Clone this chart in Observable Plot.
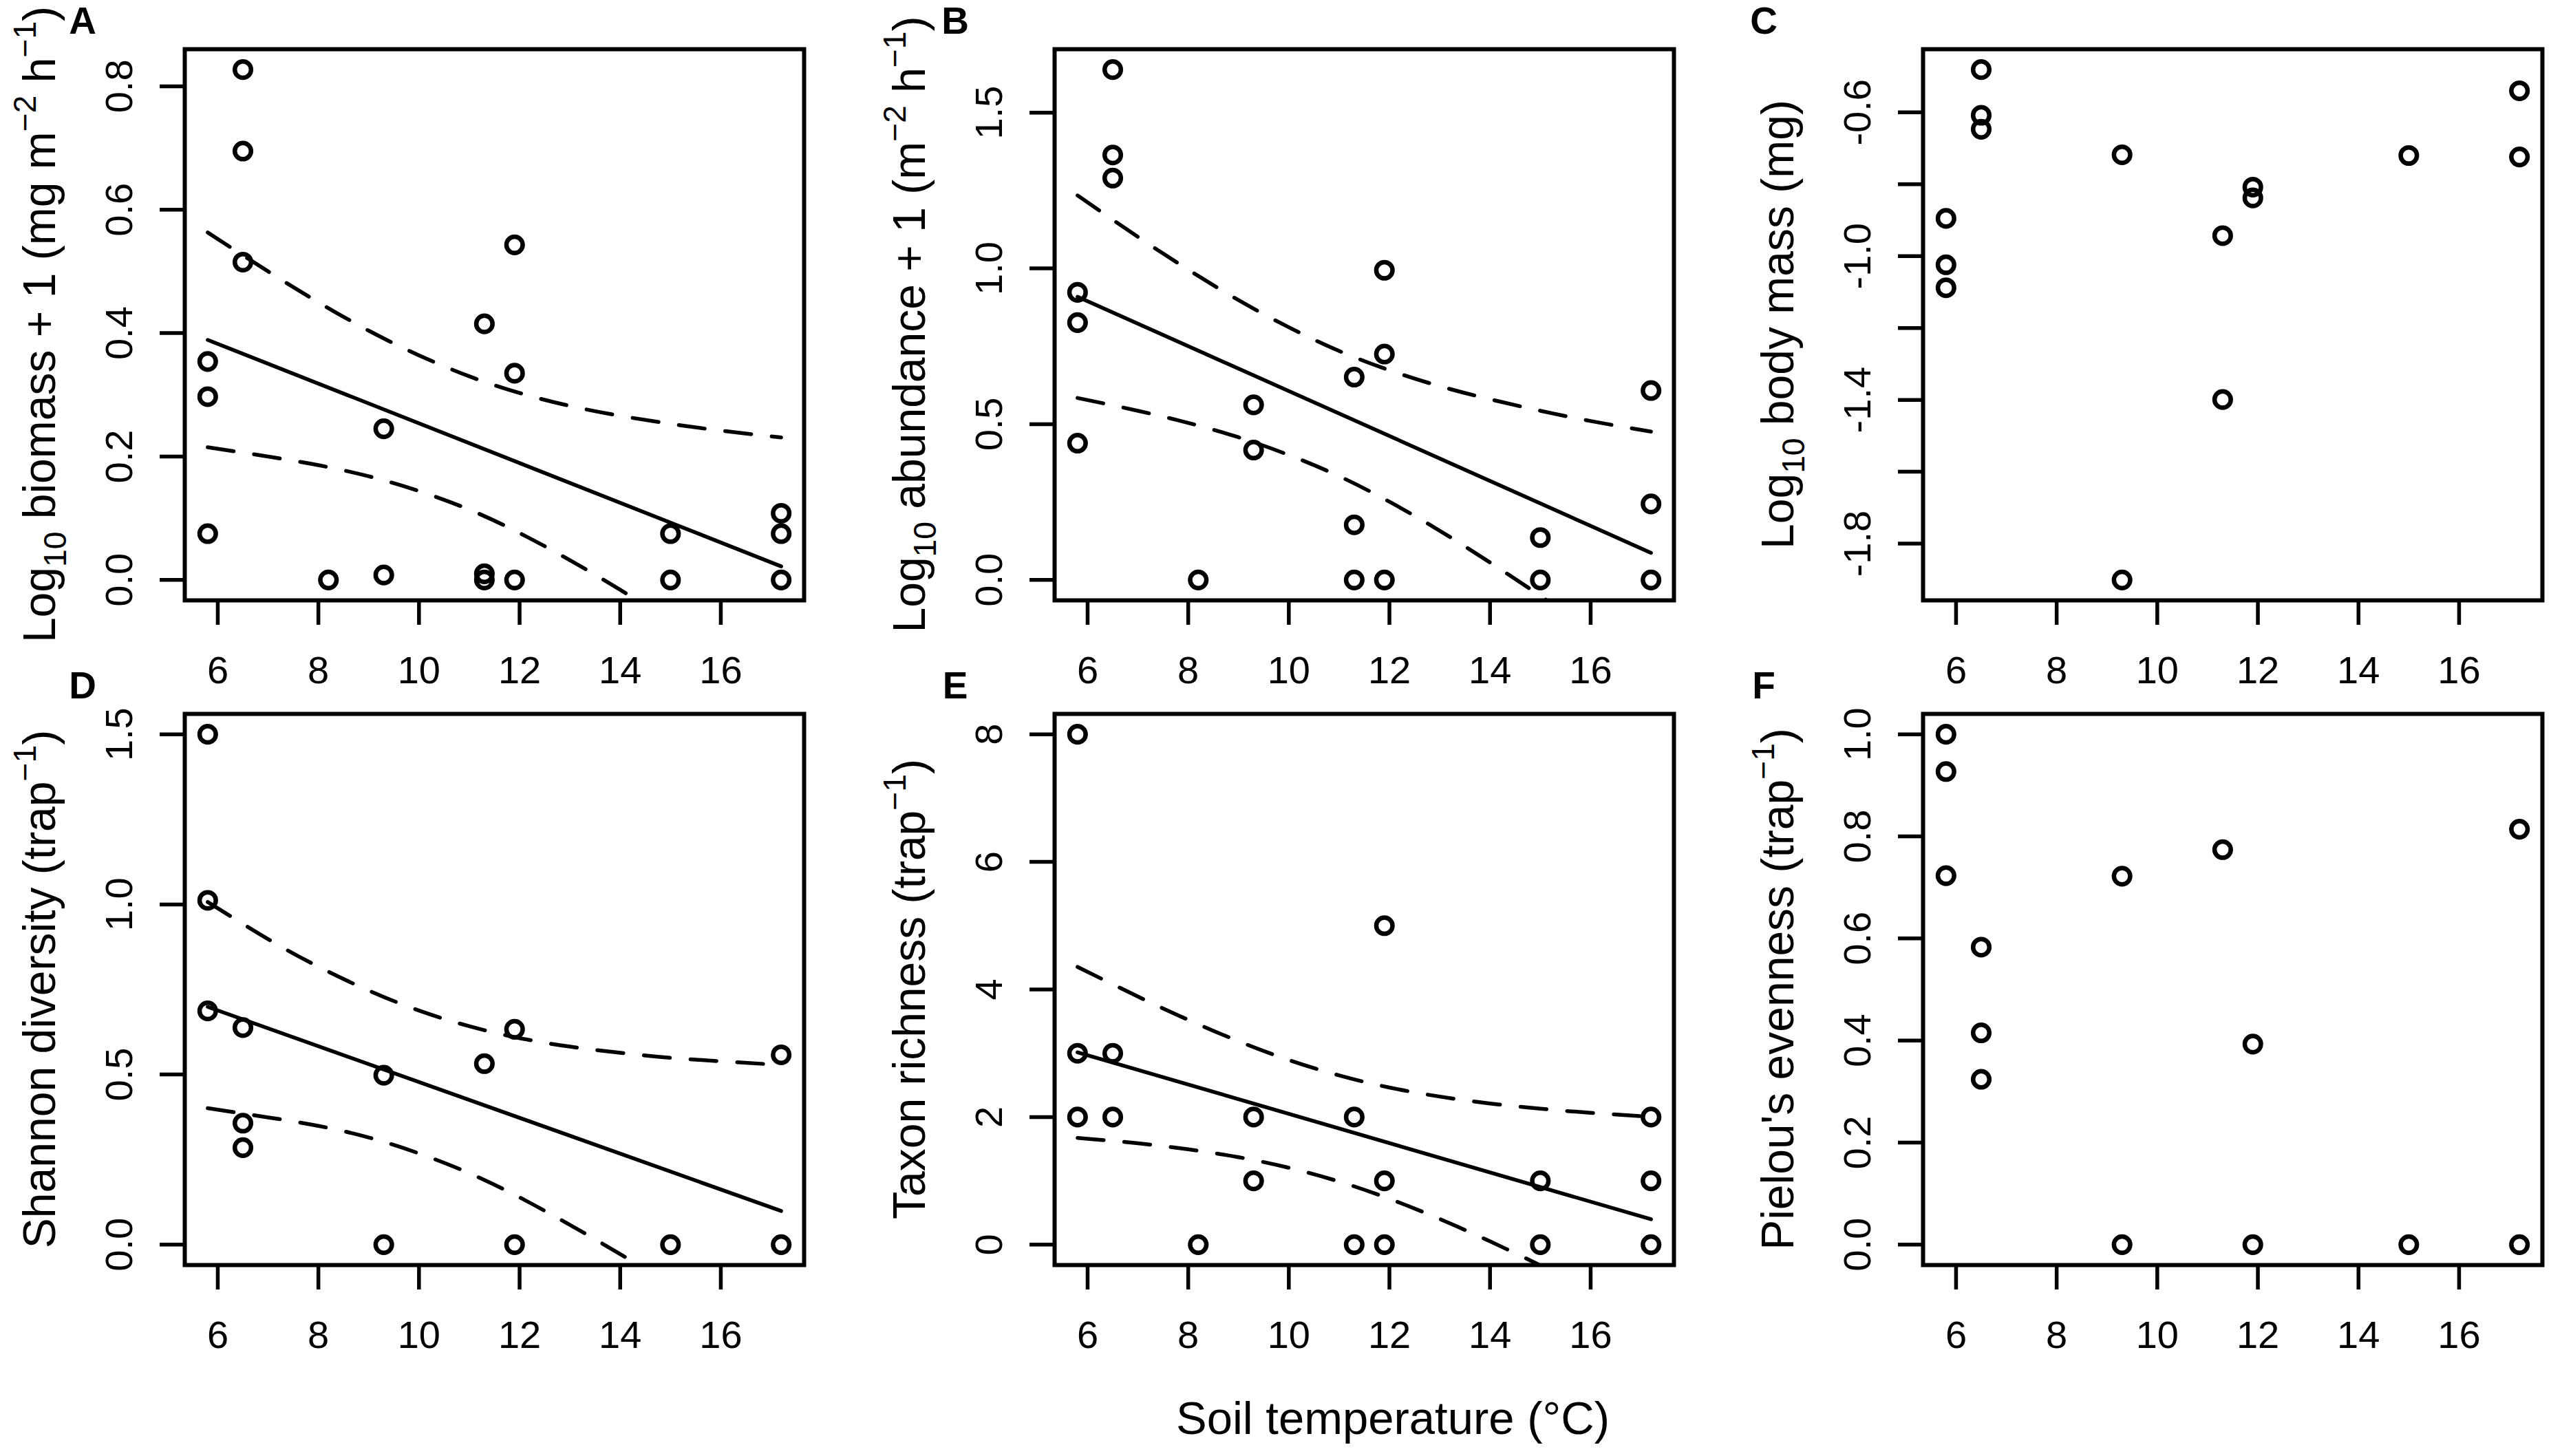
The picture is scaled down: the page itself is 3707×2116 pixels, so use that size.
<!DOCTYPE html>
<html><head><meta charset="utf-8">
<script src="https://cdn.jsdelivr.net/npm/d3@7"></script>
<script src="https://cdn.jsdelivr.net/npm/@observablehq/plot@0.6"></script>
<style>
html,body{margin:0;padding:0;background:#fff;}
#fig{position:relative;width:3707px;height:2116px;overflow:hidden;background:#fff;}
#fig svg{position:absolute;}
</style></head><body><div id="fig"></div>
<script>
const FONT = "'Liberation Sans', Arial, Helvetica, sans-serif";

// ---------- shared ----------
const xTicks = [6, 8, 10, 12, 14, 16];
const bandX = [5.8, 7, 8, 9, 10, 11, 12, 13, 14, 15, 16, 17.2];
const fitX = [5.8, 17.2];

// ---------- A: biomass ----------
const biomassTemp  = [5.8,5.8,5.8,6.5,6.5,6.5,8.2,9.3,9.3,11.3,11.3,11.3,11.9,11.9,11.9,15.0,15.0,17.2,17.2,17.2];
const biomassValue = [0.354,0.297,0.075,0.827,0.695,0.515,0,0.245,0.008,0.415,0.010,0,0.543,0.335,0,0.075,0,0.108,0.075,0];
const biomassFit   = [0.389, 0.022];
const biomassUpper = [0.563,0.500,0.450,0.404,0.364,0.330,0.303,0.282,0.266,0.253,0.242,0.231];
const biomassLower = [0.215,0.200,0.186,0.168,0.144,0.114,0.076,0.032,-0.016,-0.067,-0.120,-0.187];
const biomassTicks = [0, 0.2, 0.4, 0.6, 0.8];

// ---------- B: abundance ----------
const abundanceTemp  = [5.8,5.8,5.8,6.5,6.5,6.5,8.2,9.3,9.3,11.3,11.3,11.3,11.9,11.9,11.9,15.0,15.0,17.2,17.2,17.2];
const abundanceValue = [0.923,0.826,0.439,1.638,1.364,1.290,0,0.562,0.417,0.651,0.177,0,0.994,0.725,0,0.136,0,0.608,0.244,0];
const abundanceFit   = [0.909, 0.087];
const abundanceUpper = [1.234,1.101,0.996,0.898,0.811,0.735,0.673,0.622,0.580,0.543,0.510,0.476];
const abundanceLower = [0.584,0.543,0.504,0.458,0.401,0.333,0.251,0.158,0.056,-0.051,-0.164,-0.302];
const abundanceTicks = [0, 0.5, 1.0, 1.5];

// ---------- C: body mass ----------
const massTemp  = [5.8,5.8,5.8,6.5,6.5,6.5,9.3,9.3,11.3,11.3,11.9,11.9,15.0,17.2,17.2];
const massValue = [-0.895,-1.024,-1.088,-0.481,-0.608,-0.647,-0.718,-1.901,-0.943,-1.399,-0.808,-0.838,-0.720,-0.540,-0.724];
const massTicks = [-1.8,-1.6,-1.4,-1.2,-1.0,-0.8,-0.6];
const massTickLabels = [-1.8,-1.4,-1.0,-0.6];

// ---------- D: Shannon ----------
const shannonTemp  = [5.8,5.8,5.8,6.5,6.5,6.5,9.3,9.3,11.3,11.9,11.9,15.0,17.2,17.2];
const shannonValue = [1.5,1.012,0.687,0.638,0.357,0.285,0.498,0,0.532,0.633,0,0,0.558,0];
const shannonFit   = [0.699, 0.099];
const shannonUpper = [1.007,0.898,0.817,0.747,0.688,0.642,0.607,0.582,0.564,0.549,0.539,0.528];
const shannonLower = [0.401,0.374,0.349,0.315,0.268,0.210,0.139,0.058,-0.028,-0.119,-0.213,-0.330];
const shannonTicks = [0, 0.5, 1.0, 1.5];

// ---------- E: richness ----------
const richnessTemp  = [5.8,5.8,5.8,6.5,6.5,8.2,9.3,9.3,11.3,11.3,11.9,11.9,11.9,15.0,15.0,17.2,17.2,17.2];
const richnessValue = [8,3,2,3,2,0,2,1,2,0,5,1,0,1,0,2,1,0];
const richnessFit   = [3.014, 0.398];
const richnessUpper = [4.354,3.889,3.524,3.189,2.895,2.653,2.463,2.321,2.213,2.131,2.066,2.003];
const richnessLower = [1.674,1.589,1.494,1.371,1.205,0.989,0.719,0.403,0.051,-0.325,-0.720,-1.207];
const richnessTicks = [0, 2, 4, 6, 8];

// ---------- F: evenness ----------
const evennessTemp  = [5.8,5.8,5.8,6.5,6.5,6.5,9.3,9.3,11.3,11.9,11.9,15.0,17.2,17.2];
const evennessValue = [1.0,0.927,0.723,0.583,0.415,0.324,0.722,0,0.774,0.393,0,0,0.814,0];
const evennessTicks = [0, 0.2, 0.4, 0.6, 0.8, 1.0];

// ---------- labels ----------
const xTitle = "Soil temperature (°C)";
const labA = [{t:"Log"},{t:"10",sub:1},{t:" biomass + 1 (mg m"},{t:"−2",sup:1},{t:" h"},{t:"−1",sup:1},{t:")"}];
const labB = [{t:"Log"},{t:"10",sub:1},{t:" abundance + 1 (m"},{t:"−2",sup:1},{t:" h"},{t:"−1",sup:1},{t:")"}];
const labC = [{t:"Log"},{t:"10",sub:1},{t:" body mass (mg)"}];
const labD = [{t:"Shannon diversity (trap"},{t:"−1",sup:1},{t:")"}];
const labE = [{t:"Taxon richness (trap"},{t:"−1",sup:1},{t:")"}];
const labF = [{t:"Pielou's evenness (trap"},{t:"−1",sup:1},{t:")"}];

const f1 = d => d.toFixed(1);
const f0 = d => String(d);

const panels = [
  {name:"A", col:0, row:0, xs:biomassTemp, ys:biomassValue, fit:biomassFit, up:biomassUpper, lo:biomassLower, ticks:biomassTicks, tlab:biomassTicks, fmt:f1, lab:labA, ldx:-148},
  {name:"B", col:1, row:0, xs:abundanceTemp, ys:abundanceValue, fit:abundanceFit, up:abundanceUpper, lo:abundanceLower, ticks:abundanceTicks, tlab:abundanceTicks, fmt:f1, lab:labB, ldx:-144},
  {name:"C", col:2, row:0, xs:massTemp, ys:massValue, ticks:massTicks, tlab:massTickLabels, fmt:f1, lab:labC, ldx:-231},
  {name:"D", col:0, row:1, xs:shannonTemp, ys:shannonValue, fit:shannonFit, up:shannonUpper, lo:shannonLower, ticks:shannonTicks, tlab:shannonTicks, fmt:f1, lab:labD, ldx:-148},
  {name:"E", col:1, row:1, xs:richnessTemp, ys:richnessValue, fit:richnessFit, up:richnessUpper, lo:richnessLower, ticks:richnessTicks, tlab:richnessTicks, fmt:f0, lab:labE, ldx:-144},
  {name:"F", col:2, row:1, xs:evennessTemp, ys:evennessValue, ticks:evennessTicks, tlab:evennessTicks, fmt:f1, lab:labF, ldx:-231}
];

// layout (pixels)
const colLeft = [268, 1532, 2794];
const rowTop = [71, 1037];
const ML = 268, MT = 71, FW = 900, FH = 801, MR = 12, MB = 170;
const W = ML + FW + MR, H = MT + FH + MB;
const TICK_FS = 56;

function pad(arr) {
  const [a, b] = d3.extent(arr);
  const r = b - a;
  return [a - 0.04 * r, b + 0.04 * r];
}

function richText(sel, parts, fs) {
  let shift = 0;
  for (const p of parts) {
    const target = p.sup ? -0.42 * fs : p.sub ? 0.24 * fs : 0;
    const ts = sel.append("tspan").text(p.t);
    if (p.sup || p.sub) ts.attr("font-size", 0.7 * fs);
    if (target !== shift) ts.attr("dy", target - shift);
    shift = target;
  }
}

const fig = document.getElementById("fig");
const allTemps = [].concat(...panels.map(p => p.xs));
const xDomain = pad(allTemps);

for (const p of panels) {
  const pts = p.xs.map((x, i) => ({x, y: p.ys[i]}));
  const marks = [
    Plot.axisX({ticks: xTicks, tickSize: 36, tickPadding: 45, strokeWidth: 5.5, fontSize: TICK_FS, label: null, tickFormat: f0}),
    Plot.axisY({ticks: p.ticks, tickSize: 36, strokeWidth: 5.5, tickFormat: () => "", label: null}),
    Plot.text(p.tlab, {y: d => d, frameAnchor: "left", dx: -77, rotate: -90, textAnchor: "middle", lineAnchor: "bottom", fontSize: TICK_FS, text: p.fmt, fill: "black"})
  ];
  if (p.fit) {
    const fitRows = fitX.map((x, i) => ({x, y: p.fit[i]}));
    const upRows = bandX.map((x, i) => ({x, y: p.up[i]}));
    const loRows = bandX.map((x, i) => ({x, y: p.lo[i]}));
    marks.push(
      Plot.line(upRows, {x: "x", y: "y", curve: "natural", stroke: "black", strokeWidth: 5.5, strokeDasharray: "38,30", clip: true}),
      Plot.line(loRows, {x: "x", y: "y", curve: "natural", stroke: "black", strokeWidth: 5.5, strokeDasharray: "38,30", clip: true}),
      Plot.line(fitRows, {x: "x", y: "y", stroke: "black", strokeWidth: 5.5, clip: true})
    );
  }
  marks.push(
    Plot.dot(pts, {x: "x", y: "y", r: 11.8, stroke: "black", strokeWidth: 6.5, fill: "none"}),
    Plot.frame({stroke: "black", strokeWidth: 6})
  );
  const svg = Plot.plot({
    width: W, height: H,
    marginLeft: ML, marginRight: MR, marginTop: MT, marginBottom: MB,
    style: {background: "transparent", overflow: "visible", fontFamily: FONT, color: "black"},
    x: {domain: xDomain},
    y: {domain: pad(p.ys)},
    marks
  });
  svg.style.left = (colLeft[p.col] - ML) + "px";
  svg.style.top = (rowTop[p.row] - MT) + "px";
  const s = d3.select(svg);
  // y axis title
  const t = s.append("text")
    .attr("transform", `translate(${ML - 188},${MT + FH / 2}) rotate(-90)`)
    .attr("text-anchor", "middle").attr("font-size", 66)
    .attr("font-family", FONT).attr("fill", "black");
  richText(t, p.lab, 66);
  // panel letter
  s.append("text").attr("x", ML + p.ldx).attr("y", MT - 22)
    .attr("font-size", 55).attr("font-weight", "bold")
    .attr("font-family", FONT).attr("fill", "black").text(p.name);
  fig.appendChild(svg);
}

// x title
const ov = d3.create("svg").attr("width", 3707).attr("height", 2116)
  .style("left", "0px").style("top", "0px");
ov.append("text").attr("x", 2024).attr("y", 2084).attr("text-anchor", "middle")
  .attr("font-size", 67).attr("font-family", FONT).attr("fill", "black").text(xTitle);
fig.appendChild(ov.node());
</script></body></html>
